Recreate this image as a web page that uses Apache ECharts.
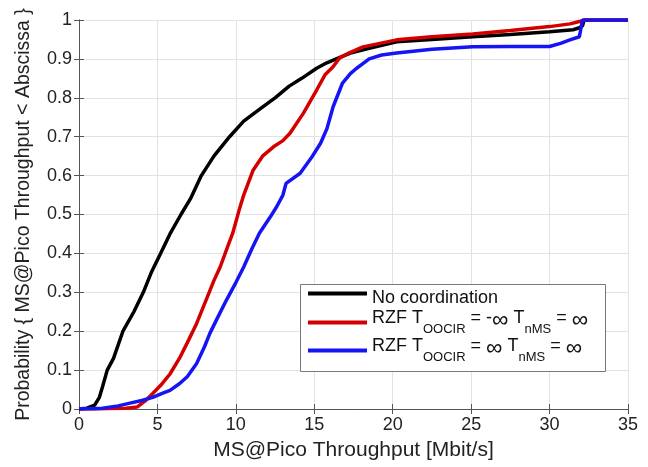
<!DOCTYPE html>
<html><head><meta charset="utf-8">
<script src="https://cdn.jsdelivr.net/npm/echarts@6/dist/echarts.min.js"></script>
<style>html,body{margin:0;padding:0;background:#fff}#c{width:648px;height:467px}</style>
</head><body><div id="c"></div>
<script>
const seriesNames = ['No coordination', 'RZF A', 'RZF B'];
const legendLabels = [
  '{m|No coordination}',
  '{n|RZF T}{s|OOCIR}{n| = -}{i|∞}{n| T}{s|nMS}{n| = }{i|∞}',
  '{n|RZF T}{s|OOCIR}{n| = }{i|∞}{n| T}{s|nMS}{n| = }{i|∞}'
];
const blackX = [0,0.5,1.0,1.3,1.5,1.8,2.2,2.8,3.5,4.1,4.6,5.2,5.8,6.5,7.1,7.8,8.6,9.6,10.5,11.5,12.5,13.4,14.2,15.15,15.8,16.4,17.3,18.5,20.25,22.5,25.1,27.5,30,31.5,31.9,32.1,32.2,35];
const blackY = [0,0.002,0.01,0.03,0.057,0.1,0.13,0.2,0.25,0.3,0.35,0.4,0.45,0.5,0.54,0.6,0.65,0.7,0.74,0.77,0.8,0.83,0.85,0.876,0.89,0.9,0.915,0.927,0.944,0.95,0.957,0.963,0.97,0.975,0.98,0.985,1.0,1.0];
const redX = [0,1,2,3,3.7,4.2,4.7,5.3,5.8,6.4,6.9,7.5,8.1,8.6,9.0,9.5,9.8,10.2,10.5,11.1,11.7,12.4,13.0,13.45,14.3,15.15,15.7,16.2,16.6,17.2,18.1,20.25,22.5,25.1,27.5,30,31.3,31.9,32.2,35];
const redY = [0,0,0.001,0.002,0.005,0.02,0.04,0.065,0.09,0.13,0.17,0.22,0.28,0.33,0.365,0.42,0.452,0.51,0.55,0.614,0.65,0.674,0.69,0.709,0.76,0.82,0.86,0.88,0.902,0.915,0.931,0.949,0.957,0.964,0.973,0.983,0.99,0.996,1.0,1.0];
const blueX = [0,1.5,2.5,3.25,4,4.7,5.3,5.8,6.4,6.9,7.5,8.0,8.35,8.9,9.4,10.0,10.5,11.0,11.5,12.2,12.6,13.0,13.2,14.1,14.8,15.4,15.8,16.2,16.8,17.3,17.7,18.1,18.5,19.3,20.25,22.5,25.1,27.5,30,30.7,31.3,31.9,32.1,35];
const blueY = [0,0.002,0.008,0.015,0.022,0.03,0.04,0.048,0.065,0.083,0.117,0.16,0.195,0.24,0.28,0.325,0.365,0.41,0.452,0.494,0.52,0.55,0.58,0.606,0.645,0.683,0.72,0.777,0.838,0.862,0.876,0.888,0.9,0.91,0.915,0.925,0.931,0.932,0.932,0.94,0.949,0.957,1.0,1.0];
const xTicks = [0,5,10,15,20,25,30,35];
const yTicks = [0,0.1,0.2,0.3,0.4,0.5,0.6,0.7,0.8,0.9,1];

const zip = (a,b) => a.map((v,i)=>[v,b[i]]);
const font = 'Liberation Sans, Arial, sans-serif';
const chart = echarts.init(document.getElementById('c'));
const baseAxis = {
  axisLine:{show:true, lineStyle:{color:'#555', width:1}},
  axisTick:{show:true, inside:true, length:5, lineStyle:{color:'#555'}},
  splitLine:{show:false},
  axisLabel:{show:false}
};
const legendText = {color:'#111', fontFamily:font, fontSize:18,
  rich:{
    m:{fontSize:18, fontFamily:font, color:'#111', lineHeight:25, verticalAlign:'top', padding:[8,0,0,0]},
    n:{fontSize:18, fontFamily:font, color:'#111', lineHeight:25, verticalAlign:'top'},
    i:{fontSize:23, fontFamily:font, color:'#111', lineHeight:25, verticalAlign:'top'},
    s:{fontSize:13, fontFamily:font, color:'#111', lineHeight:27, verticalAlign:'bottom'}
  }};
const legendTops = [281, 309, 337];
const legends = seriesNames.map((nm, k) => ({
  orient:'vertical', left:308, top:legendTops[k], itemWidth:59, itemHeight:4, icon:'rect',
  borderWidth:0, padding:0, data:[nm], z:6,
  formatter: name => legendLabels[seriesNames.indexOf(name)],
  textStyle: legendText
}));
chart.setOption({
  animation:false,
  grid:{left:79, right:20, top:20, bottom:58},
  graphic:[{type:'rect', left:300, top:284, z:5, shape:{width:305, height:87},
    style:{fill:'#fff', stroke:'#777', lineWidth:1}}],
  xAxis:[
    {type:'value', min:0, max:35, interval:5,
     name:'MS@Pico Throughput [Mbit/s]', nameLocation:'middle', nameGap:31,
     nameTextStyle:{fontSize:21, color:'#222', fontFamily:font},
     axisLine:{show:true, lineStyle:{color:'#555'}},
     axisTick:{show:true, inside:true, length:5, lineStyle:{color:'#555'}},
     splitLine:{show:true, lineStyle:{color:'#e2e2e2', width:1}},
     axisLabel:{fontSize:18, color:'#222', fontFamily:font, margin:7}},
    Object.assign({type:'value', min:0, max:35, interval:5, position:'top'}, baseAxis)
  ],
  yAxis:[
    {type:'value', min:0, max:1, interval:0.1,
     name:'Probability { MS@Pico Throughput < Abscissa }', nameLocation:'middle', nameGap:45,
     nameTextStyle:{fontSize:19.5, color:'#222', fontFamily:font},
     axisLine:{show:true, lineStyle:{color:'#555'}},
     axisTick:{show:true, inside:true, length:5, lineStyle:{color:'#555'}},
     splitLine:{show:true, lineStyle:{color:'#e2e2e2', width:1}},
     axisLabel:{fontSize:18, color:'#222', fontFamily:font, margin:7,
       formatter: v => { const t = yTicks.find(k=>Math.abs(k-v)<1e-6); return t===undefined?'':String(t); }}},
    Object.assign({type:'value', min:0, max:1, interval:0.1, position:'right'}, baseAxis)
  ],
  legend: legends,
  series:[
    {name:seriesNames[0], type:'line', data:zip(blackX,blackY), showSymbol:false, symbol:'none', lineStyle:{color:'#000', width:3.5}, itemStyle:{color:'#000'}},
    {name:seriesNames[1], type:'line', data:zip(redX,redY), showSymbol:false, symbol:'none', lineStyle:{color:'#d40000', width:3.5}, itemStyle:{color:'#d40000'}},
    {name:seriesNames[2], type:'line', data:zip(blueX,blueY), showSymbol:false, symbol:'none', lineStyle:{color:'#1414f5', width:3.5}, itemStyle:{color:'#1414f5'}}
  ]
});
</script></body></html>
